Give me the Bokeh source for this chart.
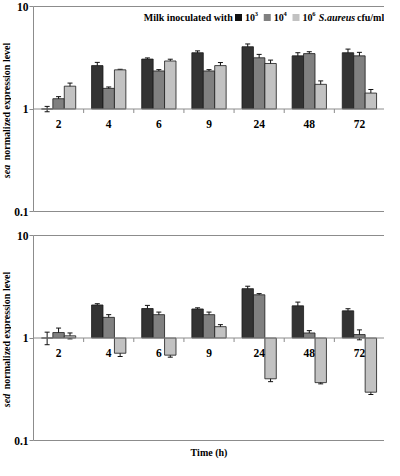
import numpy as np
from bokeh.plotting import figure
from bokeh.models import (Range1d, FixedTicker, LinearAxis, Span, Whisker, TeeHead,
                          ColumnDataSource, BasicTickFormatter)
from bokeh.layouts import column, row
from bokeh.core.properties import value
from bokeh.embed import file_html
from bokeh.resources import INLINE

# ---------------- data ----------------
times = ["2", "4", "6", "9", "24", "48", "72"]
series_exp = ["3", "4", "6"]  # 10^3, 10^4, 10^6 S.aureus cfu/ml

sea_1e3 = [1.00, 2.65, 3.07, 3.54, 4.05, 3.30, 3.54]
sea_1e3_err = [0.06, 0.20, 0.08, 0.15, 0.26, 0.24, 0.30]
sea_1e4 = [1.26, 1.59, 2.35, 2.35, 3.16, 3.47, 3.30]
sea_1e4_err = [0.06, 0.05, 0.07, 0.07, 0.25, 0.15, 0.27]
sea_1e6 = [1.67, 2.41, 2.94, 2.65, 2.78, 1.74, 1.43]
sea_1e6_err = [0.12, 0.03, 0.12, 0.19, 0.22, 0.14, 0.12]

sed_1e3 = [1.00, 2.10, 1.94, 1.92, 3.03, 2.06, 1.84]
sed_1e3_err = [0.14, 0.06, 0.14, 0.05, 0.17, 0.18, 0.09]
sed_1e4 = [1.13, 1.59, 1.69, 1.69, 2.64, 1.12, 1.08]
sed_1e4_err = [0.12, 0.10, 0.10, 0.10, 0.07, 0.06, 0.12]
sed_1e6 = [1.05, 0.71, 0.68, 1.29, 0.40, 0.367, 0.296]
sed_1e6_err = [0.07, 0.05, 0.03, 0.06, 0.025, 0.01, 0.015]

# ---------------- style ----------------
FONT = value("Liberation Serif")
BAR_COLORS = ["#333333", "#808080", "#c2c2c2"]
LEG_COLORS = ["#111111", "#808080", "#c2c2c2"]
GRAY = "#8c8c8c"
BW = 0.228
LABEL_W = 11
MAIN_W = 384 - LABEL_W
LEFT_B = 19
PPU = (MAIN_W - LEFT_B) / len(times)   # approx pixels per category unit


def ylabel_fig(gene, height, top, bottom):
    q = figure(width=LABEL_W, height=height, y_axis_type="log",
               x_range=Range1d(0, 1), y_range=Range1d(0.1, 10),
               output_backend="svg", toolbar_location=None,
               x_axis_location=None, y_axis_location=None,
               min_border_left=0, min_border_right=0,
               min_border_top=top, min_border_bottom=bottom)
    q.outline_line_color = None
    q.grid.visible = False
    q.text(x=[0.5], y=[10 ** -0.545], text=[gene], angle=np.pi / 2,
           text_align="right", text_baseline="middle", text_font=FONT,
           text_font_style="bold italic", text_font_size="10px", text_color="black")
    q.text(x=[0.5], y=[10 ** -0.500], text=["normalized expression level"],
           angle=np.pi / 2, text_align="left", text_baseline="middle",
           text_font=FONT, text_font_style="bold", text_font_size="10px",
           text_color="black")
    return q


def add_legend(p):
    ly = 7.8
    fs = 10
    x0 = 2.2
    pos = 0.0

    def X(px):
        return x0 + px / PPU

    def txt(px, s, style="bold", size=fs, dy=0):
        p.text(x=[X(px)], y=[ly], text=[s], text_align="left",
               text_baseline="middle", y_offset=dy, text_font=FONT,
               text_font_style=style, text_font_size=f"{size}px",
               text_color="black")

    txt(pos, "Milk inoculated with")
    pos += 8.9 * fs
    sq = []
    for k in range(3):
        pos += 3
        sq.append(X(pos + 3.5))
        pos += 7 + 3
        txt(pos, "10")
        pos += 1.0 * fs
        txt(pos, series_exp[k], size=6.5, dy=-3.5)
        pos += 3.5
        if k < 2:
            pos += 2.5
    p.scatter(x=sq, y=[ly] * 3, marker="square", size=7,
              fill_color=LEG_COLORS, line_color=None)
    pos += 3
    txt(pos, "S.aureus", style="bold italic")
    pos += 3.55 * fs + 3
    txt(pos, "cfu/ml")


def panel(vals, errs, height, top, bottom, legend, xlabel):
    p = figure(width=MAIN_W, height=height, y_axis_type="log",
               x_range=Range1d(0, len(times)), y_range=Range1d(0.1, 10),
               output_backend="svg", toolbar_location=None,
               min_border_left=LEFT_B, min_border_right=0,
               min_border_top=top, min_border_bottom=bottom)
    p.outline_line_color = None
    p.xgrid.visible = False
    p.ygrid.visible = False

    # y axis
    ya = p.yaxis[0]
    ya.ticker = FixedTicker(ticks=[0.1, 1, 10])
    ya.formatter = BasicTickFormatter()
    ya.minor_tick_line_color = None
    ya.major_tick_out = 4
    ya.major_tick_in = 0
    ya.axis_line_color = GRAY
    ya.major_tick_line_color = GRAY
    ya.major_label_text_font = "Liberation Serif"
    ya.major_label_text_font_style = "bold"
    ya.major_label_text_font_size = "11.5px"
    ya.major_label_text_color = "black"
    ya.major_label_standoff = 1

    # bottom frame line (and x label)
    xa = p.xaxis[0]
    xa.ticker = FixedTicker(ticks=[])
    xa.major_tick_line_color = None
    xa.minor_tick_line_color = None
    xa.major_tick_out = 0
    xa.major_label_standoff = 0
    xa.major_label_text_font_size = "0px"
    xa.axis_line_color = GRAY
    if xlabel:
        xa.axis_label = xlabel
        xa.axis_label_text_font = "Liberation Serif"
        xa.axis_label_text_font_style = "bold"
        xa.axis_label_text_font_size = "10px"
        xa.axis_label_text_color = "black"
        xa.axis_label_standoff = 6

    # top frame line
    top_ax = LinearAxis(ticker=FixedTicker(ticks=[]), axis_line_color=GRAY,
                        major_tick_line_color=None, minor_tick_line_color=None,
                        major_tick_out=0, major_label_standoff=0,
                        major_label_text_font_size="0px")
    p.add_layout(top_ax, "above")

    # baseline at 1 with ticks between groups
    p.add_layout(Span(location=1, dimension="width", line_color=GRAY, line_width=1))
    bounds = list(range(1, len(times)))
    p.ray(x=bounds, y=[1] * len(bounds), length=4, length_units="screen",
          angle=-np.pi / 2, line_color=GRAY, line_width=1)

    centers = np.arange(len(times)) + 0.5
    for k in range(3):
        x = centers + (k - 1) * BW
        v = np.array(vals[k])
        e = np.array(errs[k])
        src = ColumnDataSource(dict(x=x, top=v, lower=v - e, upper=v + e))
        p.vbar(x="x", top="top", bottom=1, width=BW, source=src,
               fill_color=BAR_COLORS[k], line_color="#1a1a1a", line_width=0.8)
        w = Whisker(source=src, base="x", lower="lower", upper="upper",
                    line_color="#111111", line_width=1,
                    upper_head=TeeHead(size=5, line_color="#111111", line_width=1),
                    lower_head=TeeHead(size=5, line_color="#111111", line_width=1))
        p.add_layout(w)

    # category labels under the baseline
    p.text(x=centers, y=[1] * len(times), text=times, text_align="center",
           text_baseline="middle", y_offset=15, text_font=FONT,
           text_font_style="bold", text_font_size="11.5px", text_color="black")

    if legend:
        add_legend(p)
    return p


H1, T1, B1 = 224, 6, 13
H2, T2, B2 = 236, 11, 20

p1 = panel([sea_1e3, sea_1e4, sea_1e6], [sea_1e3_err, sea_1e4_err, sea_1e6_err],
           height=H1, top=T1, bottom=B1, legend=True, xlabel=None)
p2 = panel([sed_1e3, sed_1e4, sed_1e6], [sed_1e3_err, sed_1e4_err, sed_1e6_err],
           height=H2, top=T2, bottom=B2, legend=False, xlabel="Time (h)")
l1 = ylabel_fig("sea", H1, T1, B1)
l2 = ylabel_fig("sed", H2, T2, B2)

layout = column(row(l1, p1, spacing=0), row(l2, p2, spacing=0), spacing=0)
open("out.html", "w").write(file_html(layout, INLINE))
